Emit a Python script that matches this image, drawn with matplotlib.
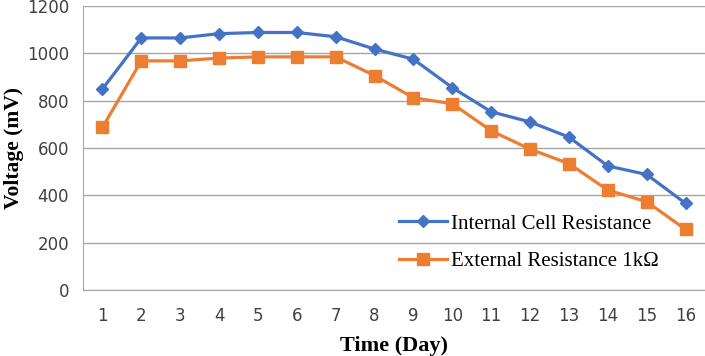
import matplotlib.pyplot as plt

# data
days = list(range(1, 17))
internal_mv = [849, 1065, 1065, 1083, 1088, 1088, 1070, 1018, 975, 855, 753, 710, 646, 524, 488, 366]
external_mv = [687, 968, 968, 980, 985, 985, 985, 906, 812, 787, 673, 595, 534, 422, 373, 256]
y_ticks = [0, 200, 400, 600, 800, 1000, 1200]

fig = plt.figure(figsize=(7.05, 3.56), dpi=100)
ax = fig.add_axes([0.1177, 0.1854, 0.8823, 0.7978])

ax.plot(days, internal_mv, color='#4472C4', lw=2.3, marker='D', ms=6.5,
        label='Internal Cell Resistance')
ax.plot(days, external_mv, color='#ED7D31', lw=2.3, marker='s', ms=8.5,
        label='External Resistance 1k\u03a9')

ax.set_xlim(0.5, 16.5)
ax.set_ylim(0, 1200)
ax.set_xticks(days)
ax.set_yticks(y_ticks)
ax.tick_params(length=0, labelsize=12, colors='#404040', pad=10)
ax.tick_params(axis='x', pad=12)
for lab in ax.get_xticklabels() + ax.get_yticklabels():
    lab.set_family('Liberation Sans Narrow')

ax.grid(axis='y', color='#a6a6a6', lw=1)
ax.set_axisbelow(True)
for s in ['top', 'right']:
    ax.spines[s].set_visible(False)
ax.spines['left'].set_color('#a6a6a6')
ax.spines['bottom'].set_color('#a6a6a6')

ax.set_xlabel('Time (Day)', family='Liberation Serif', fontweight='bold', fontsize=16, labelpad=8)
ax.set_ylabel('Voltage (mV)', family='Liberation Serif', fontweight='bold', fontsize=15.5, labelpad=2)

leg = ax.legend(loc='center left', bbox_to_anchor=(0.478, 0.167), frameon=False,
                prop={'family': 'Liberation Serif', 'size': 15},
                handlelength=2.3, handletextpad=0.2, labelspacing=0.85)

fig.savefig('out.png', dpi=100)
